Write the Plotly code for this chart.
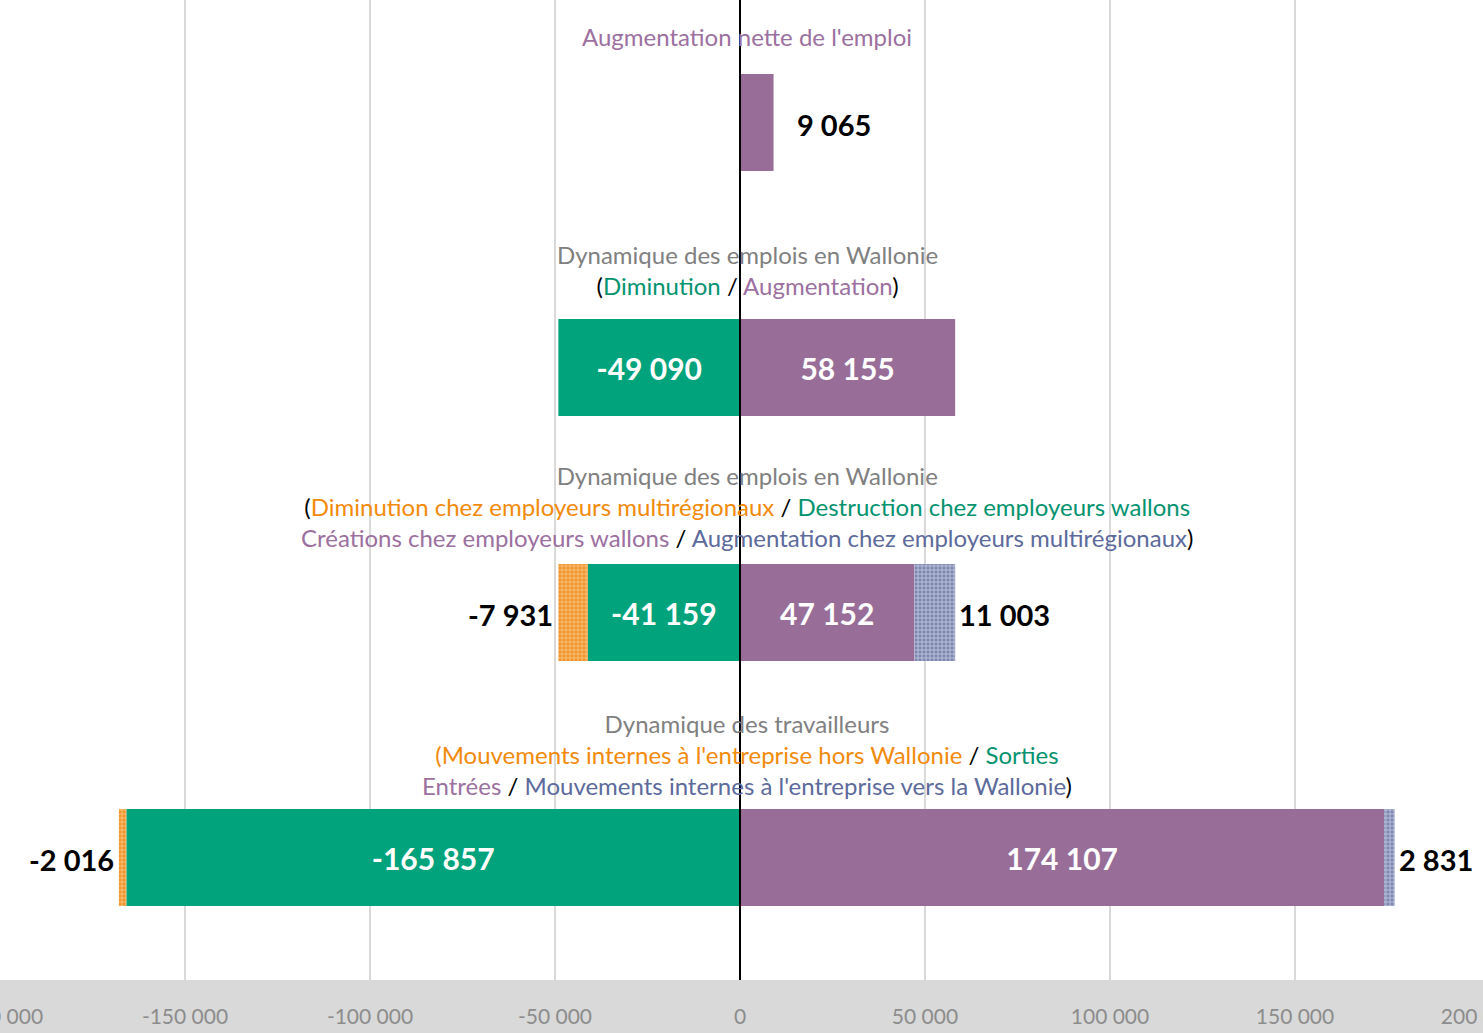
import plotly.graph_objects as go

# ---------------- data ----------------
categories = ["net", "emplois", "emplois_detail", "travailleurs"]
augmentation = [9065, 58155, 47152, 174107]          # purple
diminution = [None, -49090, -41159, -165857]          # green
multireg_minus = [None, None, -7931, -2016]           # orange pattern
multireg_plus = [None, None, 11003, 2831]             # blue pattern
tick_values = [-200000, -150000, -100000, -50000, 0, 50000, 100000, 150000, 200000]

PURPLE = "#986E99"
GREEN = "#00A37C"
T_GRAY = "#808080"
T_ORANGE = "#F28A0C"
T_GREEN = "#05936F"
T_PURPLE = "#9C70A0"
T_BLUE = "#5C6A9C"


def fmt(v):
    return f"{v:,}".replace(",", " ")


def span(txt, col):
    return f"<span style='color:{col}'>{txt}</span>"


headers = [
    span("Augmentation nette de l'emploi", T_PURPLE),
    span("Dynamique des emplois en Wallonie", T_GRAY) + "<br>("
    + span("Diminution", T_GREEN) + " / " + span("Augmentation", T_PURPLE) + ")",
    span("Dynamique des emplois en Wallonie", T_GRAY) + "<br>("
    + span("Diminution chez employeurs multirégionaux", T_ORANGE) + " / "
    + span("Destruction chez employeurs wallons", T_GREEN) + "<br>"
    + span("Créations chez employeurs wallons", T_PURPLE) + " / "
    + span("Augmentation chez employeurs multirégionaux", T_BLUE) + ")",
    span("Dynamique des travailleurs", T_GRAY) + "<br>"
    + span("(Mouvements internes à l'entreprise hors Wallonie", T_ORANGE) + " / "
    + span("Sorties", T_GREEN) + "<br>"
    + span("Entrées", T_PURPLE) + " / "
    + span("Mouvements internes à l'entreprise vers la Wallonie", T_BLUE) + ")",
]
header_shift = [69, 66, 59, 56]

FONT = "Lato"
fig = go.Figure()

in_font = dict(family=FONT, size=30, color="white", weight="bold")

fig.add_trace(go.Bar(
    y=categories, x=augmentation, orientation="h",
    marker=dict(color=PURPLE, line=dict(width=0)),
    text=["" if i == 0 else fmt(v) for i, v in enumerate(augmentation)],
    textposition="inside", insidetextanchor="middle", textfont=in_font,
    constraintext="none", hoverinfo="skip",
))
fig.add_trace(go.Bar(
    y=categories, x=diminution, orientation="h",
    marker=dict(color=GREEN, line=dict(width=0)),
    text=["" if v is None else fmt(v) for v in diminution],
    textposition="inside", insidetextanchor="middle", textfont=in_font,
    constraintext="none", hoverinfo="skip",
))
fig.add_trace(go.Bar(
    y=categories, x=multireg_plus, orientation="h",
    marker=dict(color="#8690B6", line=dict(width=0),
                pattern=dict(shape="+", size=4, solidity=0.35,
                             fgcolor="#C8CDE2", bgcolor="#7E89B2", fillmode="replace")),
    hoverinfo="skip",
))
fig.add_trace(go.Bar(
    y=categories, x=multireg_minus, orientation="h",
    marker=dict(color="#F4A040", line=dict(width=0),
                pattern=dict(shape="+", size=4, solidity=0.35,
                             fgcolor="#F9C88A", bgcolor="#F2952A", fillmode="replace")),
    hoverinfo="skip",
))

annotations = []
out_font = dict(family=FONT, size=29, color="black", weight="bold")
# net label
annotations.append(dict(x=augmentation[0], y=categories[0], xref="x", yref="y",
                        text=fmt(augmentation[0]), showarrow=False, xanchor="left",
                        xshift=21, yshift=-2, font=out_font))
for i in (2, 3):
    left_end = diminution[i] + multireg_minus[i]
    right_end = augmentation[i] + multireg_plus[i]
    annotations.append(dict(x=left_end, y=categories[i], xref="x", yref="y",
                            text=fmt(multireg_minus[i]), showarrow=False,
                            xanchor="right", xshift=-3, yshift=-2, font=out_font))
    annotations.append(dict(x=right_end, y=categories[i], xref="x", yref="y",
                            text=fmt(multireg_plus[i]), showarrow=False,
                            xanchor="left", xshift=2, yshift=-2, font=out_font))

for c, h, s in zip(categories, headers, header_shift):
    annotations.append(dict(x=0, y=c, xref="x", yref="y", text=h, showarrow=False,
                            xanchor="center", yanchor="bottom", yshift=s, xshift=7,
                            align="center",
                            font=dict(family=FONT, size=24, color="black")))

fig.update_layout(
    width=1483, height=1033,
    margin=dict(l=0, r=3, t=0, b=53, autoexpand=False),
    barmode="relative", bargap=0.605,
    plot_bgcolor="white", paper_bgcolor="white",
    showlegend=False,
    annotations=annotations,
    xaxis=dict(range=[-200000, 200000], tickvals=tick_values,
               ticktext=[fmt(v) for v in tick_values],
               ticklabeloverflow="allow", automargin=False,
               showgrid=True, gridcolor="#D9D9D9", gridwidth=1.5,
               zeroline=False, showline=False,
               ticks="outside", ticklen=18, tickcolor="rgba(0,0,0,0)",
               tickfont=dict(family=FONT, size=21, color="#8C8C8C")),
    yaxis=dict(categoryorder="array", categoryarray=categories,
               range=[3.5, -0.5], autorange=False, automargin=False,
               showticklabels=False, showgrid=False,
               zeroline=False, showline=False),
    shapes=[
        dict(type="rect", xref="paper", yref="paper", x0=-0.01, x1=1.01,
             y0=-53 / 980, y1=0, fillcolor="#D9D9D9", line=dict(width=0), layer="below"),
        dict(type="line", xref="x", yref="paper", x0=0, x1=0, y0=0, y1=1,
             line=dict(color="black", width=2), layer="above"),
    ],
)

fig.write_html("out.html", config={"displayModeBar": False},
               post_script="document.body.style.margin='0';")
